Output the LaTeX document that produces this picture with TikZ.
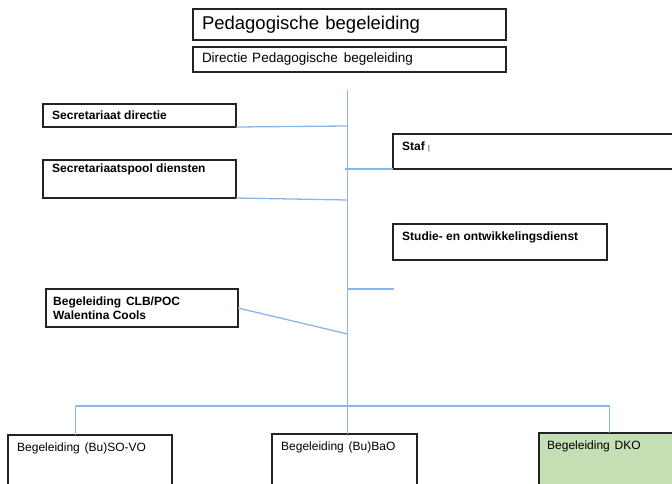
\documentclass[tikz,border=0pt]{standalone}
\usepackage{fontspec}
\setmainfont{Liberation Sans}
\definecolor{conn}{RGB}{140,182,230}
\definecolor{dkogreen}{RGB}{197,224,180}
\definecolor{boxline}{RGB}{35,35,35}
\newcommand{\wsp}{\hspace{1.5pt}}
\begin{document}
\begin{tikzpicture}[x=1pt,y=-1pt,
  box/.style={draw=boxline, line width=1.1pt, anchor=north west, inner sep=0pt, outer sep=0pt},
  lbl/.style={anchor=north west, inner sep=0pt, align=left},
  boldtxt/.style={font=\fontsize{12}{14}\selectfont\bfseries},
  regtxt/.style={font=\fontsize{12}{14}\selectfont},
  link/.style={draw=conn, line width=1.3pt}]
\useasboundingbox (0,0) rectangle (672,484);

% top boxes
\node[box, minimum width=313pt, minimum height=31pt, text width=295pt, align=left,
      font=\fontsize{18.5}{20}\selectfont] (title) at (193,9) {Pedagogische begeleiding};
\node[box, minimum width=313pt, minimum height=25pt, text width=295pt, align=left,
      font=\fontsize{13.5}{15}\selectfont] (dir) at (193,47) {Directie Pedagogische\wsp\ begeleiding};

% left boxes
\node[box, minimum width=193pt, minimum height=23pt,
      label={[lbl, boldtxt, xshift=9pt, yshift=-7pt]north west:Secretariaat directie}] (sd) at (43,104) {};
\node[box, minimum width=193pt, minimum height=38pt,
      label={[lbl, boldtxt, xshift=9pt, yshift=-4pt]north west:Secretariaatspool diensten}] (sp) at (43,160) {};
\node[box, minimum width=192pt, minimum height=38pt,
      label={[lbl, boldtxt, xshift=7pt, yshift=-7.5pt]north west:Begeleiding\wsp\ CLB/POC\\Walentina Cools}] (clb) at (46,289) {};

% right boxes
\node[box, minimum width=300pt, minimum height=35pt,
      label={[lbl, boldtxt, xshift=9pt, yshift=-8pt]north west:Staf {\mdseries\fontsize{7}{7}\selectfont |}}] (staf) at (393,134) {};
\node[box, minimum width=214pt, minimum height=36pt,
      label={[lbl, boldtxt, xshift=9pt, yshift=-8pt]north west:Studie- en ontwikkelingsdienst}] (sod) at (393,224) {};

% bottom boxes
\node[box, minimum width=164pt, minimum height=70pt,
      label={[lbl, regtxt, xshift=9pt, yshift=-8pt]north west:Begeleiding\wsp\ (Bu)SO-VO}] (sovo) at (8,435) {};
\node[box, minimum width=145pt, minimum height=70pt,
      label={[lbl, regtxt, xshift=9pt, yshift=-8pt]north west:Begeleiding\wsp\ (Bu)BaO}] (bao) at (272,434) {};
\node[box, fill=dkogreen, minimum width=150pt, minimum height=70pt,
      label={[lbl, regtxt, xshift=8pt, yshift=-8pt]north west:Begeleiding\wsp\ DKO}] (dko) at (539,433) {};

% connector points
\coordinate (spinetop) at (347.5,90);
\coordinate (j1) at (347.5,126);
\coordinate (j2) at (347.5,200);
\coordinate (j3) at (345,169);
\coordinate (j4) at (347.5,289);
\coordinate (j4end) at (394,289);
\coordinate (j5) at (347.5,334);
\coordinate (bl) at (75.5,406);
\coordinate (br) at (609.5,406);

% connectors
\draw[link] (spinetop) -- (bao.north -| spinetop);
\draw[link] (sd.south east) -- (j1);
\draw[link] (sp.south east) -- (j2);
\draw[link] (j3) -- (staf.south west);
\draw[link] (j4) -- (j4end);
\draw[link] (clb.east) -- (j5);
\draw[link] (bl) -- (br);
\draw[link] (bl) -- (bl |- sovo.north);
\draw[link] (br) -- (br |- dko.north);
\end{tikzpicture}
\end{document}
